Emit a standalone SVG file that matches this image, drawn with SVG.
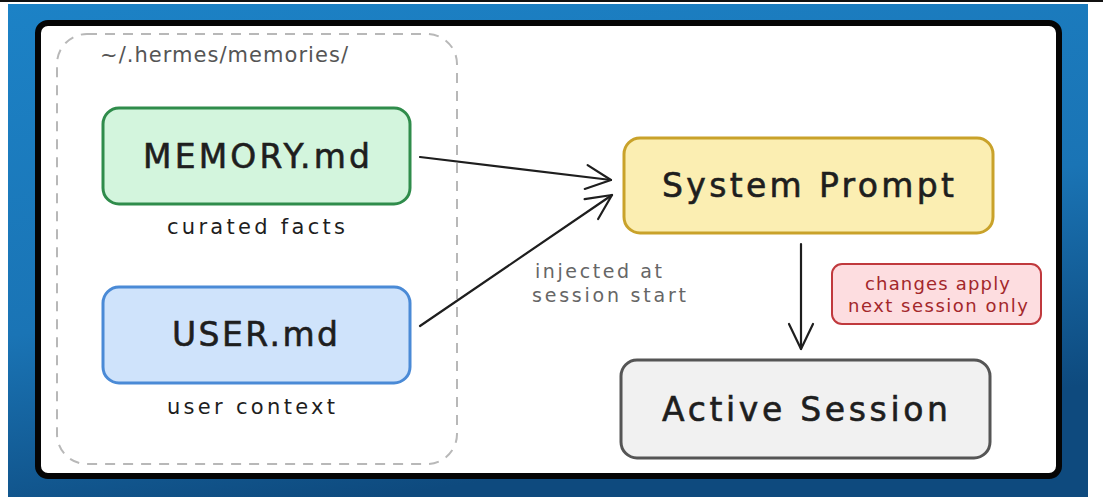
<svg xmlns="http://www.w3.org/2000/svg" width="1109" height="497" viewBox="0 0 1109 497">
<defs>
<linearGradient id="bg" x1="0" y1="0" x2="0.35" y2="1">
<stop offset="0" stop-color="#1c82c6"/>
<stop offset="0.6" stop-color="#1a74b5"/>
<stop offset="1" stop-color="#0e4a7e"/>
</linearGradient>
<marker id="ah" viewBox="0 0 30 30" refX="28" refY="15" markerWidth="30" markerHeight="30" markerUnits="userSpaceOnUse" orient="auto">
<path d="M3,3 L28,15 L3,27" fill="none" stroke="#1e1e1e" stroke-width="2.2" stroke-linecap="round" stroke-linejoin="round"/>
</marker>
<style>
.node{stroke-width:3}
.t{font-family:"DejaVu Sans","Open Sans",sans-serif;fill:#1e1e1e;text-anchor:start}
.big{font-size:33px;stroke:#1e1e1e;stroke-width:0.6}
.cap{font-size:21px}
.conn{fill:none;stroke:#1e1e1e;stroke-width:2.2;stroke-linecap:round}
</style>
</defs>
<rect width="1109" height="497" fill="#ffffff"/>
<rect x="8" y="4" width="1080" height="493" fill="url(#bg)"/>
<rect x="0" y="0" width="1103" height="2" fill="#111"/>
<rect x="38" y="23" width="1021" height="453" rx="10" fill="#ffffff" stroke="#050505" stroke-width="6"/>
<g id="memories-folder">
<rect x="57" y="34" width="400" height="430" rx="30" fill="none" stroke="#b8b8b8" stroke-width="2" stroke-dasharray="10 8"/>
<text x="100" y="62" class="t" style="font-size:21px;fill:#555" textLength="248" lengthAdjust="spacing">~/.hermes/memories/</text>
</g>
<g id="memory-md">
<rect class="node" x="103" y="108" width="307" height="96" rx="16" fill="#d3f5dd" stroke="#2f8c4b"/>
<text x="143" y="168" class="t big" textLength="227" lengthAdjust="spacing">MEMORY.md</text>
<text x="167" y="234" class="t cap" textLength="178" lengthAdjust="spacing">curated facts</text>
</g>
<g id="user-md">
<rect class="node" x="103" y="287" width="307" height="96" rx="16" fill="#cfe3fb" stroke="#4a8ad6"/>
<text x="172" y="346" class="t big" textLength="166" lengthAdjust="spacing">USER.md</text>
<text x="167" y="414" class="t cap" textLength="168" lengthAdjust="spacing">user context</text>
</g>
<g id="system-prompt">
<rect class="node" x="624" y="138" width="369" height="95" rx="16" fill="#fbeeb2" stroke="#c9a22a"/>
<text x="662" y="197" class="t big" textLength="292" lengthAdjust="spacing">System Prompt</text>
</g>
<g id="active-session">
<rect class="node" x="621" y="360" width="369" height="98" rx="16" fill="#f1f1f1" stroke="#555555"/>
<text x="662" y="421" class="t big" textLength="286" lengthAdjust="spacing">Active Session</text>
</g>
<g id="note">
<rect x="832" y="264" width="209" height="60" rx="10" fill="#fddde0" stroke="#c0393d" stroke-width="2"/>
<text x="865" y="290" class="t" style="font-size:18px;fill:#a3272b" textLength="145" lengthAdjust="spacing">changes apply</text>
<text x="848" y="312" class="t" style="font-size:18px;fill:#a3272b" textLength="180" lengthAdjust="spacing">next session only</text>
</g>
<g id="connectors">
<path class="conn" d="M420,157 L611,180" marker-end="url(#ah)"/>
<path class="conn" d="M420,326 L612,195" marker-end="url(#ah)"/>
<path class="conn" d="M801,244 L801,349" marker-end="url(#ah)"/>
<text x="535" y="278" class="t" style="font-size:19px;fill:#666" textLength="127" lengthAdjust="spacing">injected at</text>
<text x="532" y="302" class="t" style="font-size:19px;fill:#666" textLength="154" lengthAdjust="spacing">session start</text>
</g>
</svg>
